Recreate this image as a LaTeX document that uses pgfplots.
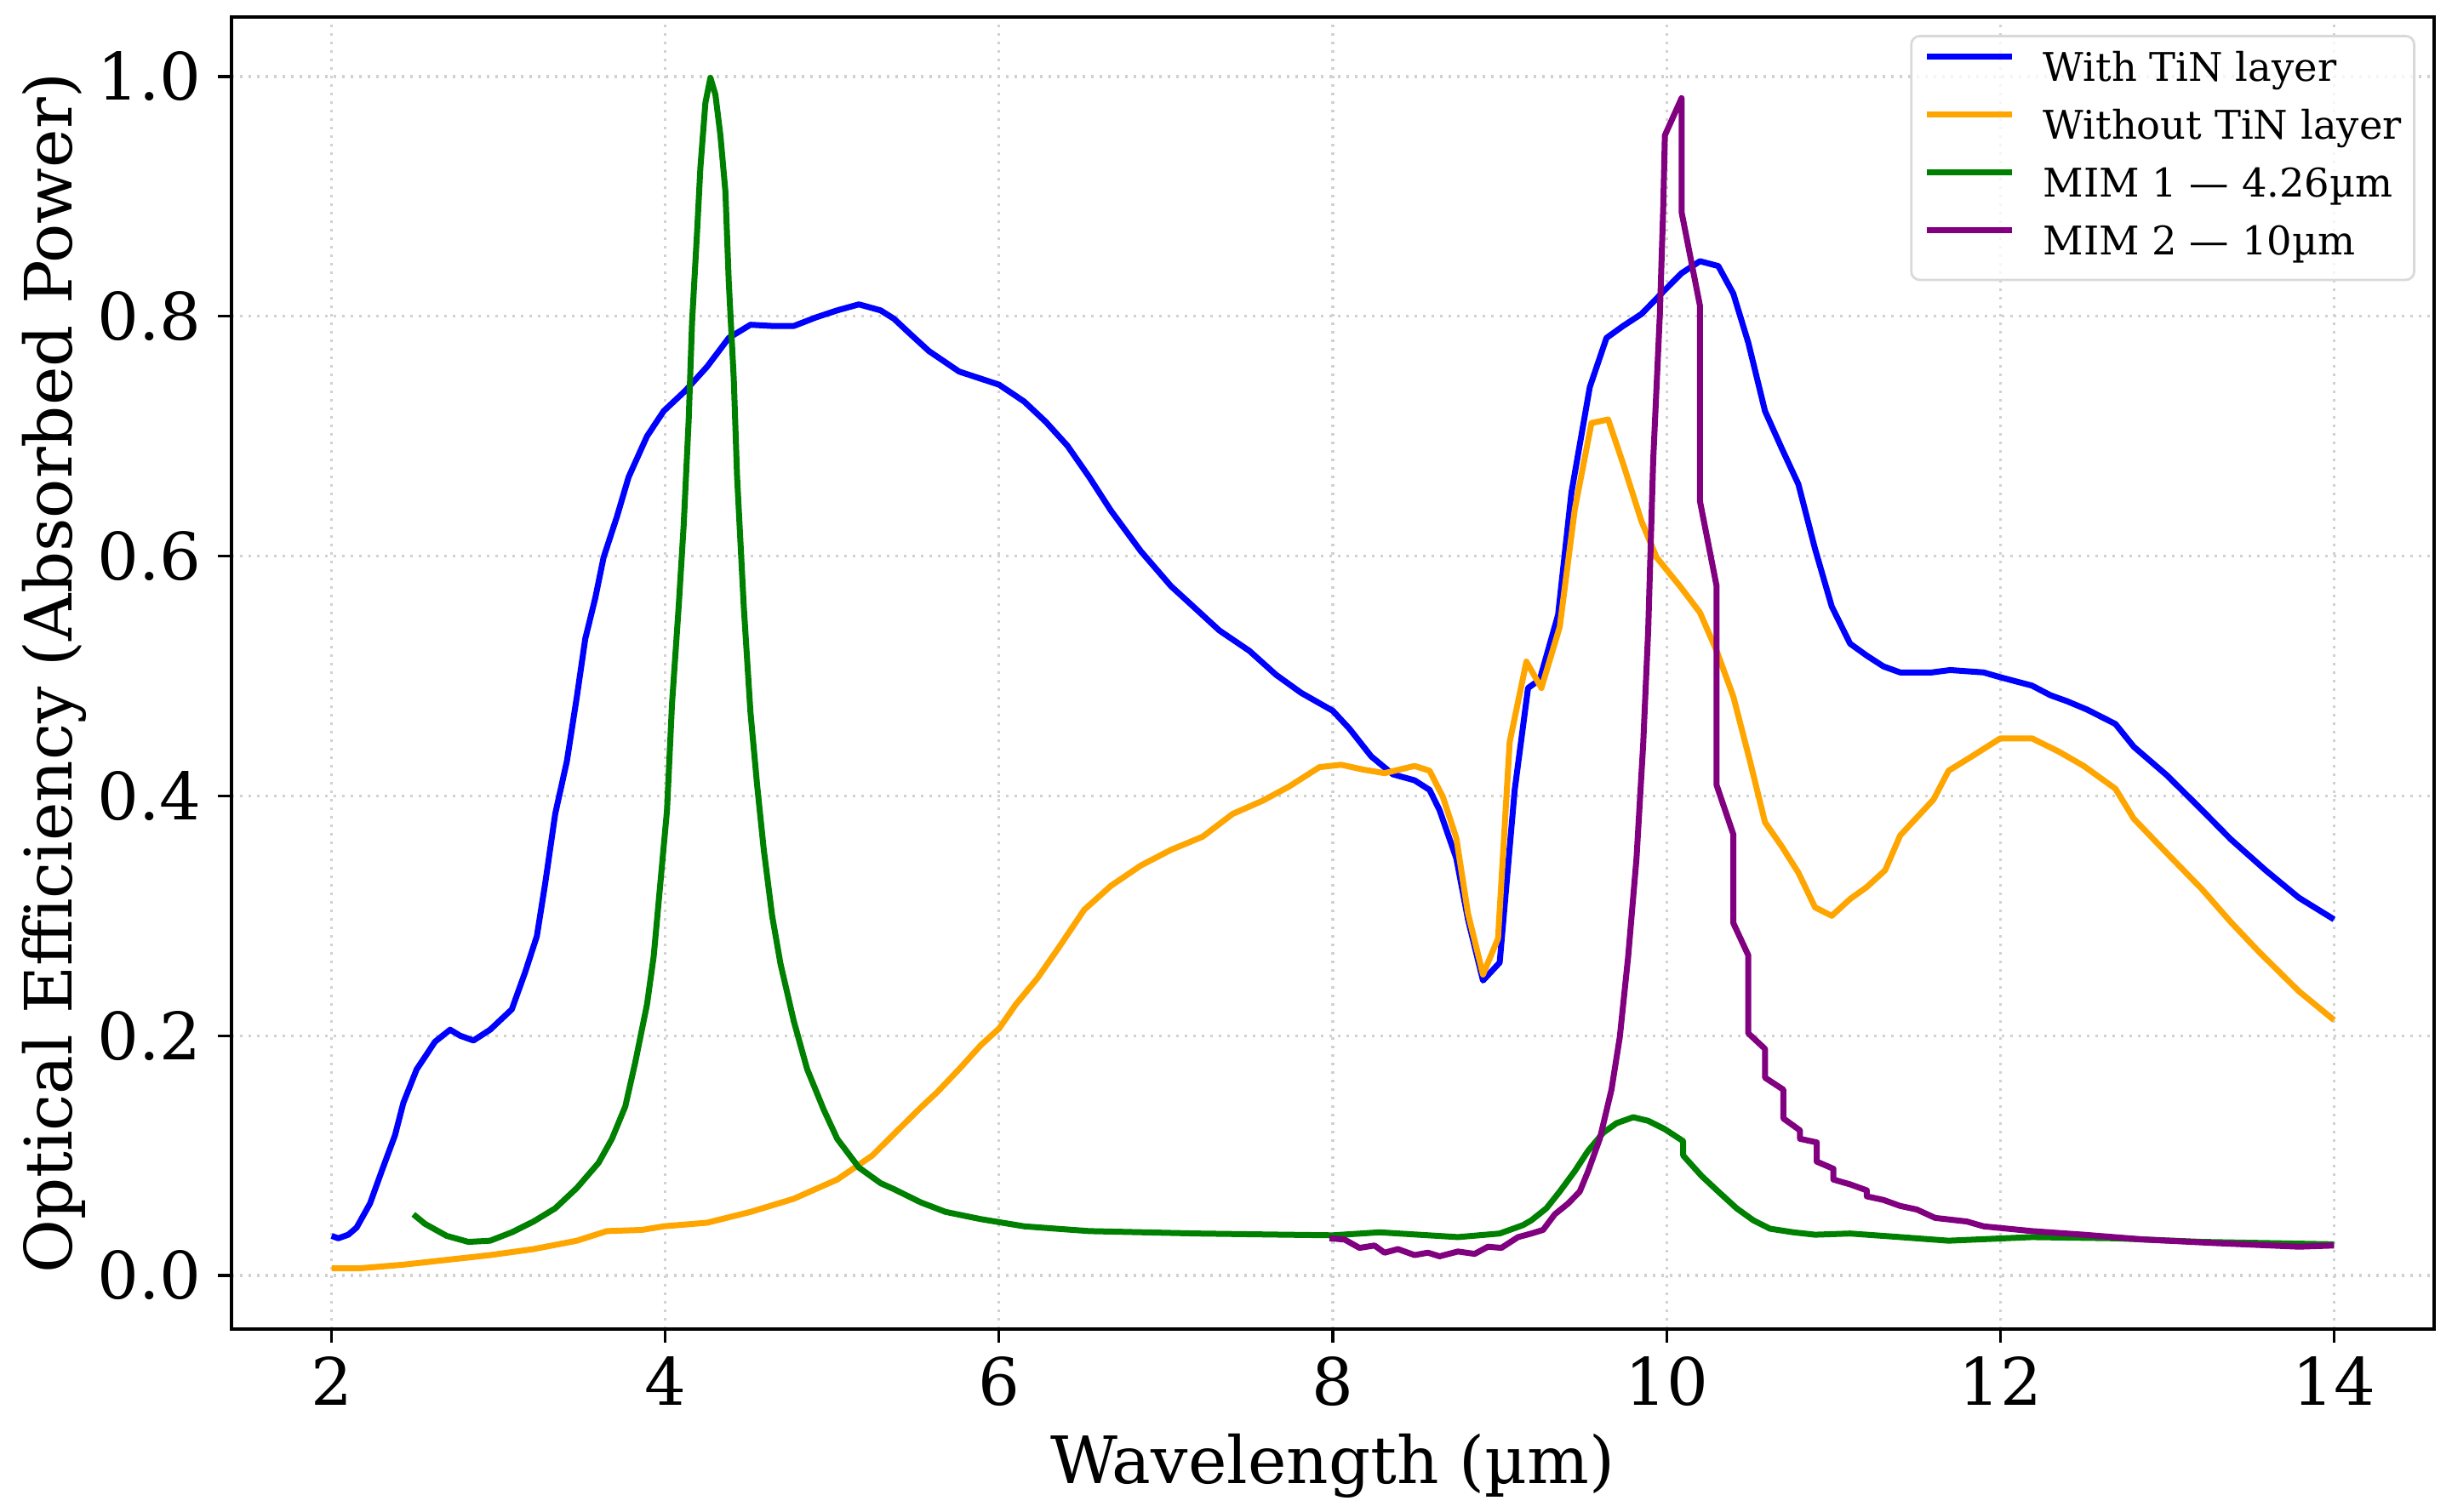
\documentclass[border=0pt]{standalone}
\usepackage{fontspec}
\setmainfont{DejaVu Serif}
\usepackage{pgfplots}
\pgfplotsset{compat=1.18}
\definecolor{mplorange}{HTML}{FFA500}
\definecolor{mplgreen}{HTML}{008000}
\definecolor{mplpurple}{HTML}{800080}
\begin{document}
\begin{tikzpicture}
\useasboundingbox (-68pt,-53.75pt) rectangle (652.25pt,390.5pt);
\begin{axis}[
  at={(0,0)}, anchor=south west,
  scale only axis, width=647pt, height=385.5pt,
  xmin=1.4, xmax=14.6, ymin=-0.0447, ymax=1.0497,
  xtick={2,4,...,14}, ytick={0,0.2,0.4,0.6,0.8,1.0},
  tick pos=left, tick align=outside, major tick length=3.9pt,
  axis line style={line width=0.8pt, black},
  tick style={line width=0.8pt, black},
  /pgf/number format/assume math mode=true,
  yticklabel style={/pgf/number format/fixed, /pgf/number format/fixed zerofill, /pgf/number format/precision=1},
  ticklabel style={font=\fontsize{19.2}{23}\selectfont},
  xticklabel style={anchor=base, inner sep=0pt, yshift=-18.6pt},
  yticklabel style={anchor=east, inner sep=0pt, xshift=-4.8pt},
  grid=major,
  major grid style={line width=0.8pt, black!18, dash pattern=on 0.8pt off 1.7pt},
  xlabel={Wavelength (µm)},
  ylabel={Optical Efficiency (Absorbed Power)},
  label style={font=\fontsize{19.2}{23}\selectfont},
  xlabel style={at={(axis description cs:0.5,-0.1174)}, anchor=base, inner sep=0pt},
  ylabel style={at={(axis description cs:-0.0726,0.5)}, anchor=base, inner sep=0pt},
  every axis plot/.append style={line width=1.75pt, line join=round},
  legend image code/.code={\draw[#1] (0pt,4.2pt) -- (25pt,4.2pt);},
  legend cell align=left,
  legend style={
    at={(1,1)}, anchor=north east, xshift=-5.5pt, yshift=-5.25pt,
    draw=black!15, line width=0.7pt, rounded corners=2.5pt,
    fill=white, fill opacity=0.8, text opacity=1,
    font=\fontsize{11.6}{13.9}\selectfont,
    inner xsep=3.75pt, inner ysep=4.8pt, row sep=5.95pt,
    nodes={inner sep=0pt, text height=8.45pt, text depth=2.6pt},
    /tikz/every odd column/.append style={column sep=8.25pt},
  },
]
\addplot[blue] coordinates {
(2.00,0.033) (2.04,0.031) (2.10,0.034) (2.15,0.040) (2.23,0.060) (2.30,0.087) (2.38,0.117) (2.43,0.144) (2.51,0.172) (2.62,0.195) (2.71,0.205) (2.77,0.200) (2.85,0.196) (2.95,0.205) (3.08,0.222) (3.16,0.253) (3.23,0.283) (3.28,0.327) (3.34,0.385) (3.41,0.429) (3.47,0.483) (3.52,0.531) (3.58,0.565) (3.63,0.599) (3.71,0.633) (3.78,0.666) (3.89,0.700) (3.99,0.721) (4.12,0.738) (4.25,0.758) (4.38,0.782) (4.51,0.793) (4.64,0.792) (4.77,0.792) (4.90,0.799) (5.03,0.805) (5.16,0.810) (5.29,0.805) (5.37,0.798) (5.47,0.785) (5.58,0.771) (5.76,0.754) (6.00,0.743) (6.15,0.729) (6.28,0.712) (6.41,0.692) (6.54,0.666) (6.67,0.638) (6.85,0.604) (7.03,0.575) (7.14,0.561) (7.32,0.538) (7.50,0.521) (7.66,0.501) (7.81,0.486) (8.00,0.471) (8.10,0.456) (8.23,0.433) (8.36,0.418) (8.49,0.413) (8.58,0.405) (8.64,0.388) (8.74,0.348) (8.81,0.297) (8.90,0.246) (9.00,0.261) (9.09,0.405) (9.17,0.490) (9.24,0.497) (9.35,0.551) (9.43,0.653) (9.54,0.741) (9.64,0.782) (9.74,0.792) (9.85,0.802) (9.99,0.822) (10.09,0.836) (10.20,0.846) (10.31,0.842) (10.40,0.819) (10.49,0.778) (10.59,0.721) (10.69,0.690) (10.79,0.660) (10.89,0.606) (10.99,0.558) (11.10,0.527) (11.20,0.517) (11.30,0.508) (11.40,0.503) (11.59,0.503) (11.70,0.505) (11.90,0.503) (12.00,0.499) (12.19,0.492) (12.30,0.484) (12.40,0.479) (12.52,0.472) (12.69,0.460) (12.80,0.441) (13.00,0.417) (13.21,0.388) (13.38,0.364) (13.59,0.338) (13.79,0.315) (14.00,0.297)
};
\addlegendentry{With TiN layer}
\addplot[mplorange] coordinates {
(2.00,0.006) (2.17,0.006) (2.43,0.009) (2.69,0.013) (2.95,0.017) (3.21,0.022) (3.47,0.029) (3.65,0.037) (3.86,0.038) (3.99,0.041) (4.25,0.044) (4.51,0.053) (4.77,0.064) (5.03,0.080) (5.24,0.100) (5.37,0.118) (5.53,0.140) (5.63,0.153) (5.76,0.172) (5.89,0.192) (6.00,0.206) (6.10,0.226) (6.23,0.248) (6.36,0.274) (6.51,0.305) (6.67,0.325) (6.85,0.342) (7.03,0.355) (7.22,0.366) (7.40,0.385) (7.58,0.396) (7.74,0.408) (7.92,0.424) (8.05,0.426) (8.18,0.422) (8.31,0.419) (8.49,0.425) (8.58,0.421) (8.66,0.399) (8.74,0.365) (8.81,0.302) (8.90,0.251) (8.99,0.281) (9.06,0.445) (9.16,0.512) (9.25,0.490) (9.36,0.541) (9.45,0.639) (9.55,0.711) (9.65,0.714) (9.74,0.677) (9.85,0.629) (9.94,0.599) (10.08,0.575) (10.20,0.553) (10.30,0.521) (10.40,0.483) (10.50,0.429) (10.59,0.378) (10.69,0.358) (10.79,0.336) (10.89,0.307) (10.99,0.300) (11.10,0.314) (11.20,0.324) (11.31,0.338) (11.40,0.367) (11.50,0.382) (11.60,0.397) (11.69,0.421) (11.83,0.433) (12.00,0.448) (12.19,0.448) (12.35,0.437) (12.50,0.425) (12.69,0.406) (12.80,0.381) (13.00,0.352) (13.21,0.322) (13.38,0.295) (13.55,0.270) (13.79,0.237) (14.00,0.213)
};
\addlegendentry{Without TiN layer}
\addplot[mplgreen] coordinates {
(2.49,0.051) (2.56,0.043) (2.69,0.033) (2.82,0.028) (2.95,0.029) (3.08,0.036) (3.21,0.045) (3.34,0.056) (3.47,0.073) (3.60,0.094) (3.68,0.114) (3.76,0.141) (3.82,0.178) (3.89,0.226) (3.93,0.266) (3.97,0.327) (4.01,0.388) (4.04,0.477) (4.08,0.558) (4.11,0.626) (4.14,0.714) (4.16,0.795) (4.19,0.870) (4.21,0.924) (4.24,0.978) (4.27,0.999) (4.30,0.985) (4.33,0.951) (4.36,0.904) (4.38,0.829) (4.41,0.748) (4.43,0.666) (4.47,0.558) (4.51,0.470) (4.55,0.409) (4.59,0.355) (4.64,0.300) (4.69,0.260) (4.77,0.212) (4.85,0.172) (4.95,0.138) (5.03,0.114) (5.16,0.090) (5.29,0.077) (5.37,0.072) (5.53,0.061) (5.68,0.053) (5.89,0.047) (6.15,0.041) (6.54,0.037) (7.19,0.035) (7.71,0.034) (8.00,0.0335) (8.28,0.036) (8.75,0.032) (9.00,0.035) (9.14,0.042) (9.19,0.046) (9.28,0.056) (9.36,0.070) (9.45,0.087) (9.53,0.104) (9.62,0.119) (9.70,0.127) (9.80,0.132) (9.89,0.129) (9.99,0.122) (10.10,0.112) (10.10,0.100) (10.21,0.083) (10.31,0.070) (10.42,0.056) (10.52,0.046) (10.62,0.039) (10.76,0.036) (10.89,0.034) (11.10,0.035) (11.40,0.032) (11.69,0.029) (12.19,0.032) (12.69,0.031) (13.21,0.028) (14.00,0.026)
};
\addlegendentry{MIM 1 — 4.26µm}
\addplot[mplpurple] coordinates {
(7.98,0.031) (8.07,0.030) (8.16,0.023) (8.25,0.025) (8.31,0.019) (8.39,0.022) (8.49,0.017) (8.57,0.019) (8.64,0.016) (8.75,0.020) (8.85,0.018) (8.93,0.024) (9.01,0.023) (9.11,0.032) (9.19,0.035) (9.26,0.038) (9.33,0.051) (9.41,0.060) (9.48,0.070) (9.53,0.087) (9.60,0.114) (9.67,0.155) (9.72,0.199) (9.77,0.266) (9.82,0.348) (9.86,0.443) (9.89,0.538) (9.92,0.680) (9.96,0.802) (9.98,0.890) (9.99,0.951) (10.09,0.982) (10.09,0.887) (10.20,0.809) (10.20,0.646) (10.30,0.575) (10.30,0.409) (10.40,0.368) (10.40,0.294) (10.49,0.267) (10.49,0.202) (10.59,0.189) (10.59,0.165) (10.70,0.155) (10.70,0.131) (10.80,0.121) (10.80,0.114) (10.90,0.111) (10.90,0.095) (11.00,0.089) (11.00,0.080) (11.10,0.076) (11.20,0.071) (11.20,0.066) (11.30,0.063) (11.40,0.058) (11.50,0.055) (11.61,0.048) (11.80,0.045) (11.90,0.041) (12.19,0.037) (12.50,0.034) (12.86,0.030) (13.29,0.027) (13.79,0.024) (14.00,0.025)
};
\addlegendentry{MIM 2 — 10µm}
\end{axis}
\end{tikzpicture}
\end{document}
